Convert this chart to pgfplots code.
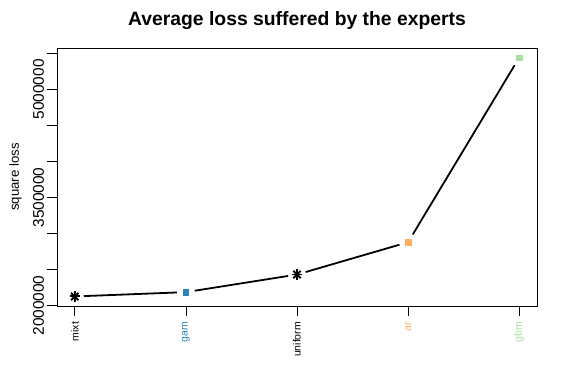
\documentclass[border=0pt]{standalone}
\usepackage{pgfplots}
\pgfplotsset{compat=1.18}
\usepackage{fontspec}
\setmainfont{Liberation Sans}
\definecolor{cgam}{HTML}{2B83BA}
\definecolor{car}{HTML}{FDAE61}
\definecolor{cgbm}{HTML}{ABDDA4}
\begin{document}
\begin{tikzpicture}[x=1bp,y=1bp]
\path[use as bounding box] (0,0) rectangle (576,384);
\begin{axis}[
 at={(57bp,78bp)}, anchor=south west,
 scale only axis, width=480bp, height=258bp,
 xmin=0.84, xmax=5.16, ymin=1993360, ymax=5574640,
 axis line style={line width=0.75bp},
 tick align=outside, tick pos=left,
 major tick length=9.5bp,
 tick style={line width=0.75bp, black},
 scaled y ticks=false,
 /pgf/number format/assume math mode=true,
 xtick={1,2,3,4,5},
 xticklabels={mixt, \textcolor{cgam}{gam}, uniform, \textcolor{car}{ar}, \textcolor{cgbm}{gbm}},
 xticklabel style={rotate=90, anchor=east, xshift=-3bp, font=\fontsize{10.5}{12}\selectfont},
 ytick={2000000,2500000,3000000,3500000,4000000,4500000,5000000,5500000},
 yticklabels={2000000,,,3500000,,,5000000,},
 yticklabel style={rotate=90, anchor=south, font=\fontsize{15.5}{18}\selectfont},
 ylabel={square loss},
 ylabel style={at={(axis description cs:-0.0865,0.5)}, anchor=center, rotate=0, font=\fontsize{13.2}{15}\selectfont},
 title={Average loss suffered by the experts},
 title style={at={(axis description cs:0.5,1.0659)}, anchor=base, font=\bfseries\fontsize{19.4}{22}\selectfont},
 clip=false,
]
\addplot[black, line width=1.8bp, shorten >=9bp, shorten <=9bp] coordinates {(1,2126000) (2,2186000)};
\addplot[black, line width=1.8bp, shorten >=9bp, shorten <=9bp] coordinates {(2,2186000) (3,2430000)};
\addplot[black, line width=1.8bp, shorten >=9bp, shorten <=9bp] coordinates {(3,2430000) (4,2879000)};
\addplot[black, line width=1.8bp, shorten >=9bp, shorten <=9bp] coordinates {(4,2879000) (5,5442000)};
\addplot[only marks, mark=+, mark size=5.2bp, black, line width=1.9bp] coordinates {(1,2126000) (3,2430000)};
\addplot[only marks, mark=x, mark size=5.2bp, black, line width=1.9bp] coordinates {(1,2126000) (3,2430000)};
\addplot[only marks, mark=square*, mark size=2.7bp, color=cgam] coordinates {(2,2186000)};
\addplot[only marks, mark=square*, mark size=2.7bp, color=car] coordinates {(4,2879000)};
\addplot[only marks, mark=square*, mark size=2.7bp, color=cgbm] coordinates {(5,5442000)};
\end{axis}
\end{tikzpicture}
\end{document}
